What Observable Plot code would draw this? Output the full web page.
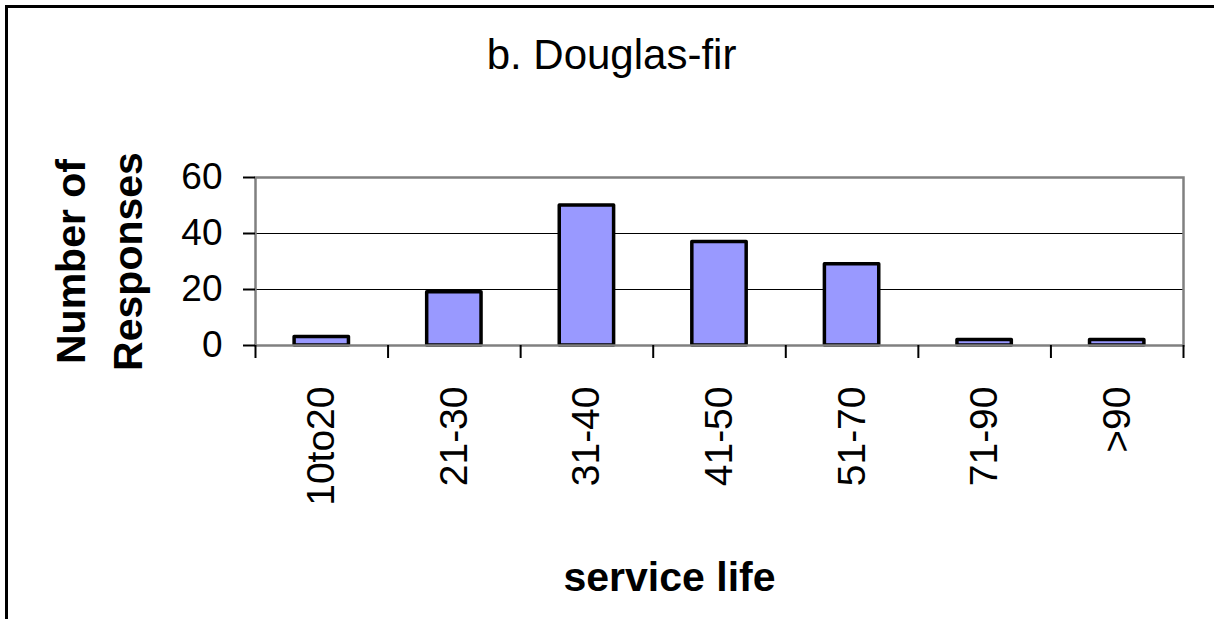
<!DOCTYPE html>
<html><head><meta charset="utf-8">
<script src="https://cdn.jsdelivr.net/npm/d3@7"></script>
<script src="https://cdn.jsdelivr.net/npm/@observablehq/plot@0.6"></script>
<style>
body{margin:0;background:#fff;font-family:Arial,"Liberation Sans",sans-serif;}
#wrap{position:relative;width:1214px;height:619px;overflow:hidden;}
#border{position:absolute;left:5px;top:5px;width:1240px;height:640px;border-left:3px solid #000;border-top:3px solid #000;pointer-events:none;}
</style></head><body>
<div id="wrap"><div id="chart"></div><div id="border"></div></div>
<script>
const categories = ["10to20","21-30","31-40","41-50","51-70","71-90",">90"];
const responses = [3,19,50,37,29,2,2];
const yTicks = [0,20,40,60];
const gridValues = [20,40];
const titleText = "b. Douglas-fir";
const xTitle = "service life";
const yTitle = "Number of\nResponses";

const rows = categories.map((c,i)=>({cat:c, value:responses[i], i}));
const half = 0.205;
const font = "Arial, 'Liberation Sans', sans-serif";
const plot = Plot.plot({
  width:1214, height:619, marginLeft:255, marginRight:31, marginTop:177, marginBottom:274,
  style:{fontFamily:font, background:"transparent", overflow:"visible", fontSize:"37px", color:"#000"},
  x:{type:"linear", domain:[0, categories.length], axis:null},
  y:{domain:[0,60], axis:null},
  marks:[
    Plot.ruleY(gridValues, {stroke:"#000", strokeWidth:1.2}),
    Plot.rectY(rows, {x1:d=>d.i+0.5-half, x2:d=>d.i+0.5+half, y1:0, y2:"value", fill:"#9999ff", stroke:"#000", strokeWidth:3.5, strokeLinejoin:"round"}),
    Plot.frame({stroke:"#808080", strokeWidth:2.5}),
    Plot.axisY({ticks:yTicks, tickSize:12, tickPadding:21, fontSize:37, strokeWidth:2, label:null}),
    Plot.axisX({ticks:d3.range(categories.length+1), tickSize:13, tickFormat:()=>"", strokeWidth:2, label:null}),
    Plot.text(rows, {x:d=>d.i+0.5, y:0, text:"cat", rotate:-90, textAnchor:"end", dy:41, fontSize:39}),
    Plot.text([titleText], {frameAnchor:"top", dx:-108, dy:-109, lineAnchor:"bottom", fontSize:42}),
    Plot.text([xTitle], {frameAnchor:"bottom", dx:-50, dy:245, lineAnchor:"bottom", fontSize:41, fontWeight:"bold"}),
    Plot.text([yTitle], {frameAnchor:"left", dx:-160, rotate:-90, lineAnchor:"middle", textAnchor:"middle", lineHeight:1.37, fontSize:41, fontWeight:"bold"})
  ]
});
document.getElementById("chart").appendChild(plot);
</script>
</body></html>
